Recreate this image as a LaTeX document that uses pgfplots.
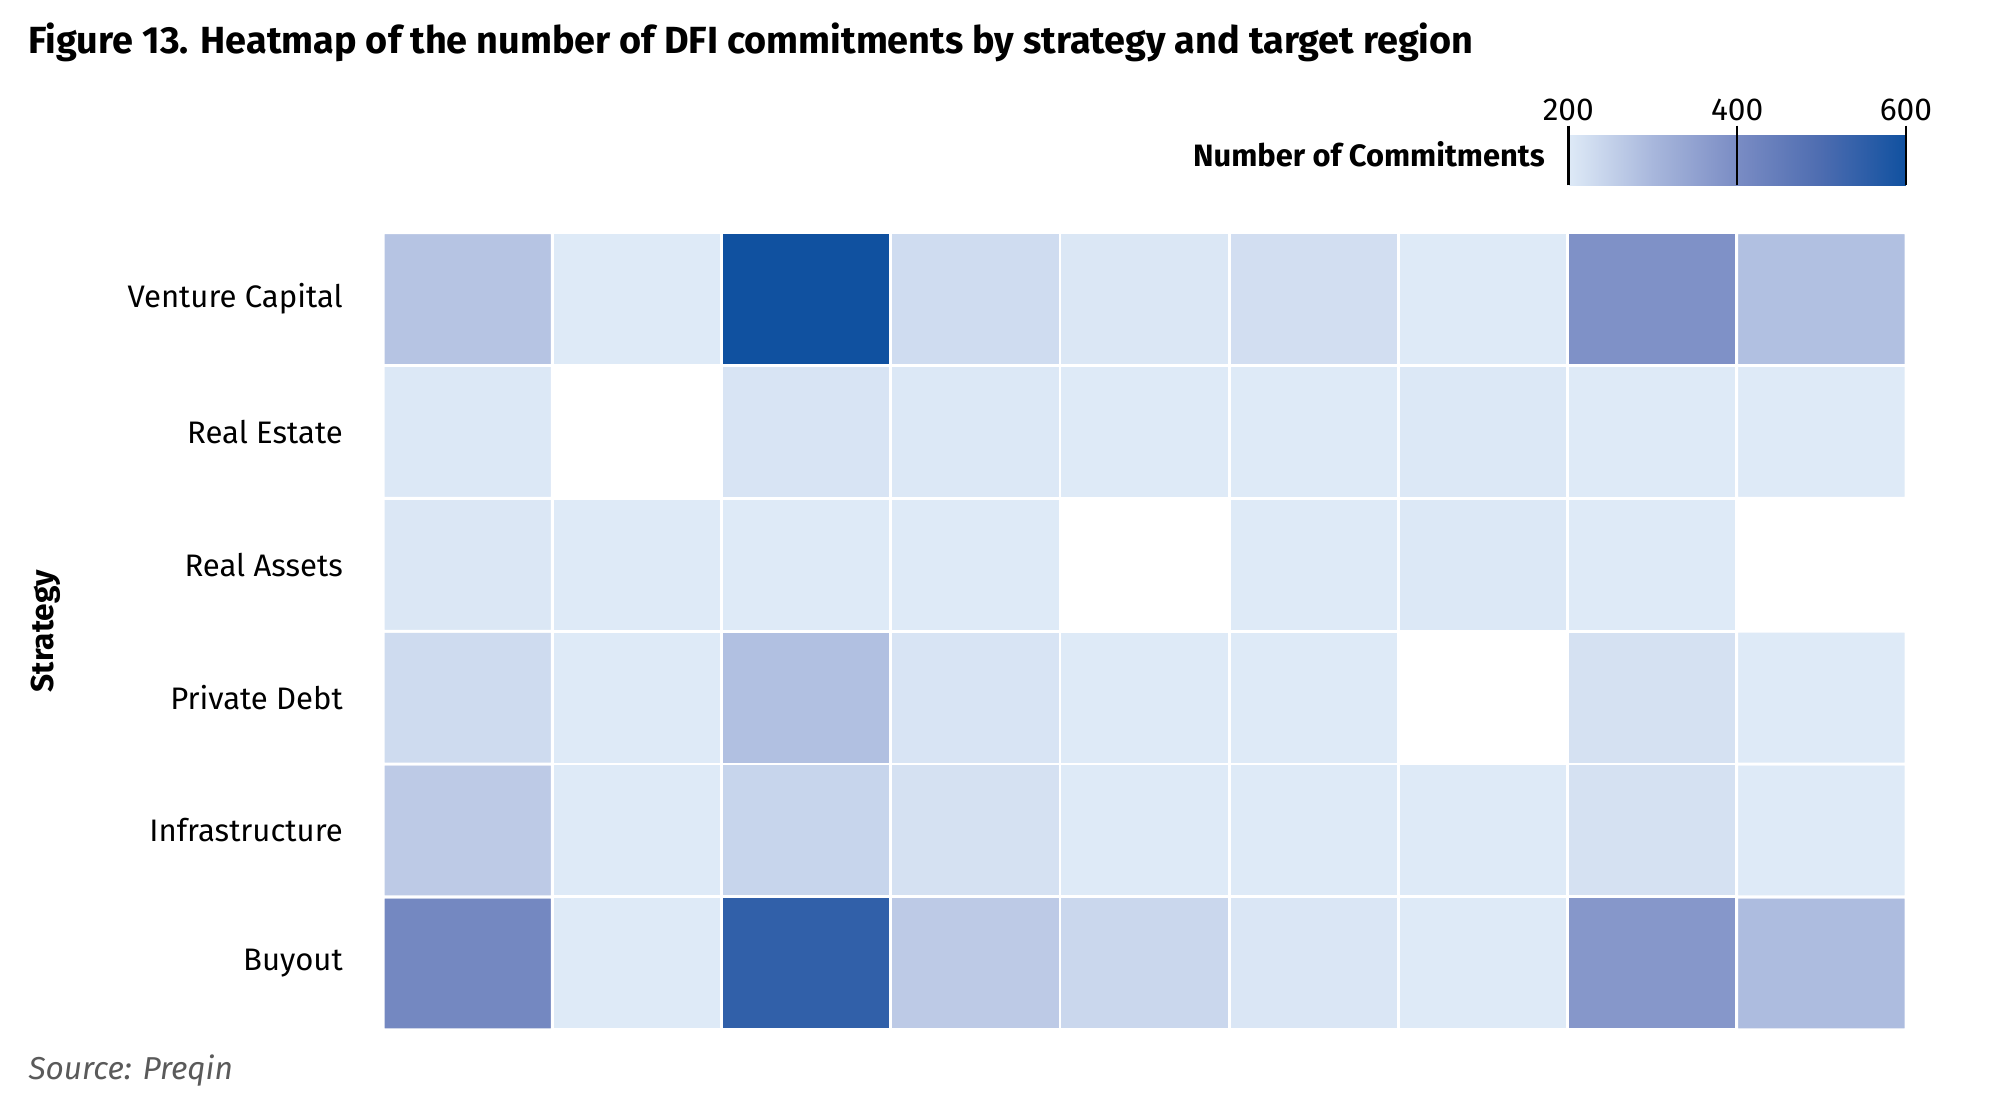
\documentclass[border=0pt]{standalone}
\usepackage{pgfplots}
\pgfplotsset{compat=1.18}
\usepackage{pgfplotstable}
\usetikzlibrary{calc}
\usepackage{fontspec}
\setmainfont{Fira Sans}
\definecolor{srcgray}{HTML}{5A5A5A}

\pgfplotstableread{
x y v
0 0 413
1 0 200
2 0 546
3 0 262
4 0 237
5 0 208
6 0 200
7 0 374
8 0 290
0 1 262
1 1 200
2 1 242
3 1 217
4 1 199
5 1 199
6 1 199
7 1 217
8 1 200
0 2 229
1 2 200
2 2 283
3 2 212
4 2 199
5 2 199
6 2 nan
7 2 217
8 2 200
0 3 206
1 3 199
2 3 199
3 3 199
4 3 nan
5 3 199
6 3 203
7 3 199
8 3 nan
0 4 204
1 4 nan
2 4 212
3 4 204
4 4 199
5 4 199
6 4 204
7 4 199
8 4 199
0 5 275
1 5 200
2 5 600
3 5 227
4 5 206
5 5 223
6 5 200
7 5 389
8 5 283
}\heat

\begin{document}
\begin{tikzpicture}
\path[use as bounding box] (0,-2.8pt) rectangle (505pt,278.75pt);
\begin{axis}[
  at={(96.75pt,18.75pt)}, anchor=south west,
  scale only axis, width=384.5pt, height=201.25pt,
  xmin=-0.5, xmax=8.5, ymin=-0.5, ymax=5.5,
  xtick=\empty,
  ytick={0,1,2,3,4,5},
  yticklabels={Buyout,Infrastructure,Private Debt,Real Assets,Real Estate,Venture Capital},
  yticklabel style={font=\fontsize{7.85}{9}\selectfont, inner sep=0pt, xshift=-10pt},
  major tick length=0pt,
  axis line style={draw=none},
  colormap={dfi}{rgb255(0cm)=(222,234,247); rgb255(1cm)=(168,183,220); rgb255(2cm)=(122,140,196); rgb255(3cm)=(77,108,176); rgb255(4cm)=(16,81,160)},
  point meta min=200, point meta max=600,
  unbounded coords=jump,
  colorbar horizontal,
  colorbar style={
    at={($(parent axis.north east)+(0,20.5pt)$)}, anchor=south east,
    scale only axis, width=85.25pt, height=12.5pt,
    xtick={200,400,600},
    xtick pos=upper, xticklabel pos=upper,
    major tick length=2.6pt, tick align=outside,
    xtick style={black, line width=0.6pt},
    xmajorgrids, major grid style={black, line width=0.6pt},
    axis on top,
    axis line style={draw=none},
    xticklabel style={font=\fontsize{8}{9}\selectfont, inner sep=1pt},
    /pgf/number format/assume math mode=true,
    ytick=\empty,
  },
]
\addplot[matrix plot*, mesh/cols=9, mesh/rows=6, point meta=explicit, draw=white, line width=0.7pt]
  table[x=x, y=y, meta=v] {\heat};
\end{axis}
\node[anchor=base west, font=\fontsize{9.55}{11}\selectfont\bfseries, inner sep=0pt] at (7pt,265.25pt) {Figure 13. Heatmap of the number of DFI commitments by strategy and target region};
\node[anchor=east, font=\fontsize{7.8}{9}\selectfont\bfseries, inner sep=0pt] at (390.25pt,239.8pt) {Number of Commitments};
\node[rotate=90, font=\fontsize{8}{9}\selectfont\bfseries, inner sep=0pt] at (11.6pt,119.4pt) {Strategy};
\node[anchor=west, font=\fontsize{8}{9}\selectfont\itshape, text=srcgray, inner sep=0pt] at (7pt,8.5pt) {Source: Preqin};
\end{tikzpicture}
\end{document}
